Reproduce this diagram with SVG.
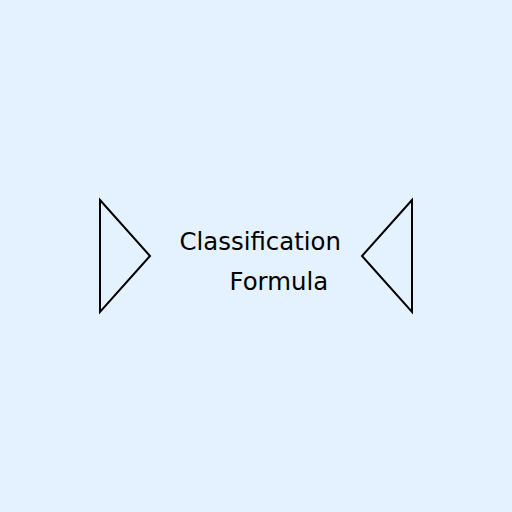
<svg xmlns="http://www.w3.org/2000/svg" width="512" height="512" viewBox="0 0 512 512">
<style>
.tri{fill:none;stroke:#000;stroke-width:2;stroke-linejoin:miter}
.lbl{font-family:"DejaVu Sans",sans-serif;font-size:24.4px;fill:#000}
</style>
<rect width="512" height="512" fill="#e4f1ff"/>
<g id="left-triangle"><polygon class="tri" points="100,200 150,256 100,312"/></g>
<g id="right-triangle"><polygon class="tri" points="412,200 362,256 412,312"/></g>
<g id="label">
<text class="lbl" x="179.5" y="250">Classification</text>
<text class="lbl" x="229.5" y="290">Formula</text>
</g>
<g id="connectors"/>
</svg>
